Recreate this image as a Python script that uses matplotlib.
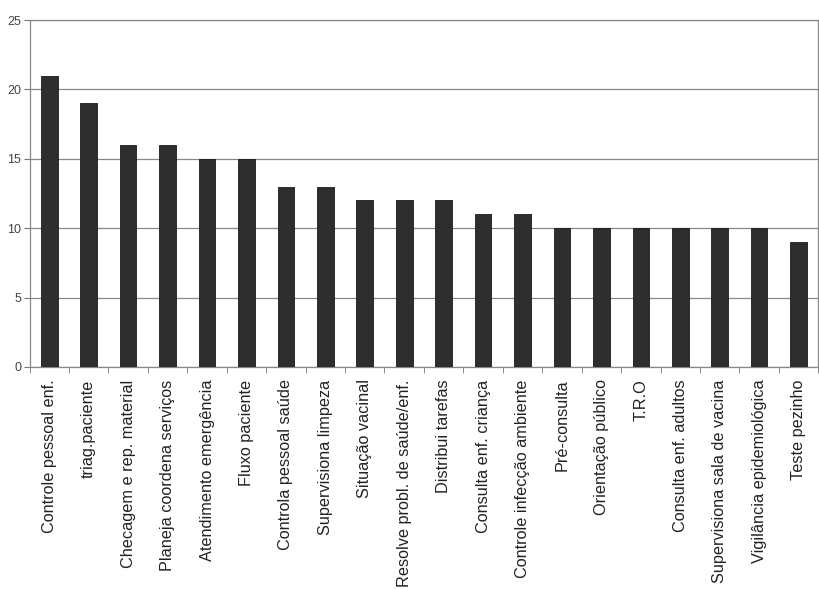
import matplotlib
matplotlib.use("Agg")
import matplotlib.pyplot as plt
import numpy as np

categorias = ["Controle pessoal enf.", "triag.paciente", "Checagem e rep. material",
              "Planeja coordena serviços", "Atendimento emergência", "Fluxo paciente",
              "Controla pessoal saúde", "Supervisiona limpeza", "Situação vacinal",
              "Resolve probl. de saúde/enf.", "Distribui tarefas", "Consulta enf. criança",
              "Controle infecção ambiente", "Pré-consulta", "Orientação público", "T.R.O",
              "Consulta enf. adultos", "Supervisiona sala de vacina",
              "Vigilância epidemiológica", "Teste pezinho"]
valores = [21, 19, 16, 16, 15, 15, 13, 13, 12, 12, 12, 11, 11, 10, 10, 10, 10, 10, 10, 9]

plt.rcParams['font.family'] = ['Liberation Sans', 'DejaVu Sans']

fig = plt.figure(figsize=(8.2, 5.89), dpi=100)
ax = fig.add_axes([0.036, 0.377, 0.962, 0.589])

x = np.arange(len(categorias))
ax.bar(x, valores, width=0.42, color='#2e2e2e', edgecolor='#1a1a1a', linewidth=0.6, zorder=3)

ax.set_xlim(-0.5, len(categorias) - 0.5)
ax.set_ylim(0, 25)
ax.set_yticks([0, 5, 10, 15, 20, 25])
ax.yaxis.grid(True, color='#888888', linewidth=0.9, zorder=0)

ax.set_xticks(x)
ax.set_xticklabels(categorias, rotation=90, fontsize=11.7, color='#222222')
ax.tick_params(axis='x', length=0, pad=9)
ax.set_xticks(np.arange(-0.5, len(categorias), 1), minor=True)
ax.tick_params(axis='x', which='minor', length=4, color='#777777', direction='out')
ax.tick_params(axis='y', length=4, color='#777777', labelsize=9, labelcolor='#444444', pad=2)

for s in ax.spines.values():
    s.set_color('#888888')
    s.set_linewidth(0.9)

plt.savefig('out.png', dpi=100)
